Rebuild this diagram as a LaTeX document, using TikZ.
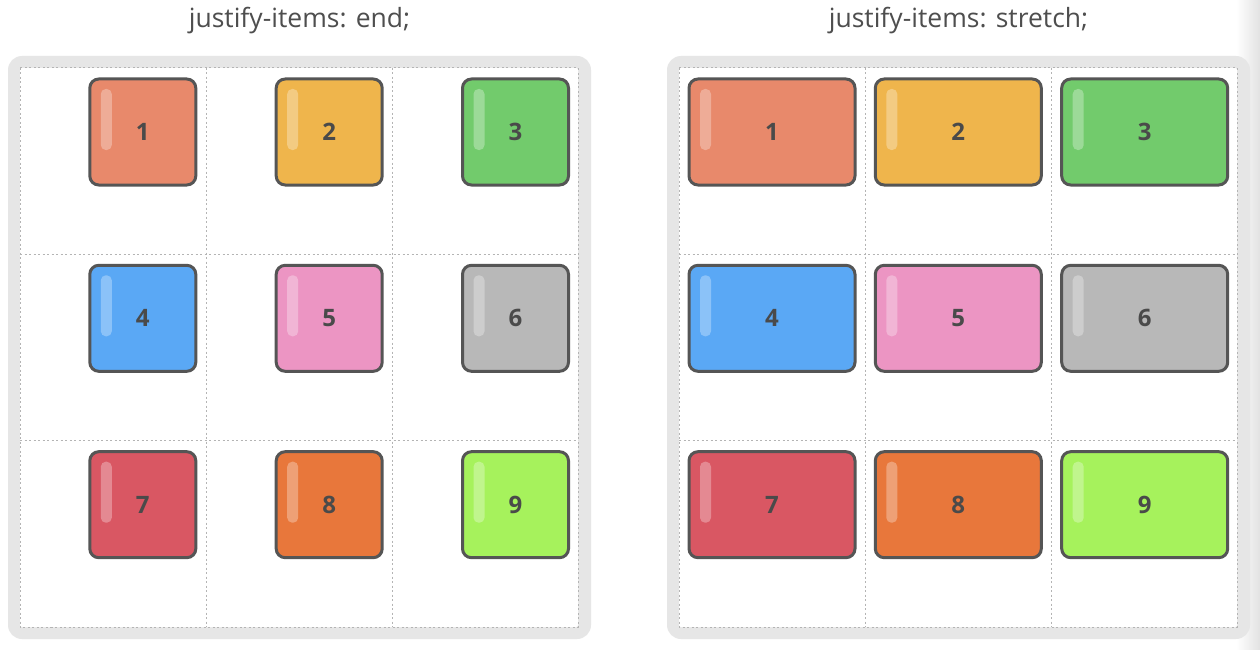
\documentclass[tikz,border=0pt]{standalone}
\usepackage{fontspec}
\newfontfamily\titlefont{Open Sans}
\definecolor{c1}{HTML}{E8896B}
\definecolor{c2}{HTML}{EFB54C}
\definecolor{c3}{HTML}{72CB6C}
\definecolor{c4}{HTML}{5AA8F5}
\definecolor{c5}{HTML}{EC95C3}
\definecolor{c6}{HTML}{B8B8B8}
\definecolor{c7}{HTML}{D95763}
\definecolor{c8}{HTML}{E8773B}
\definecolor{c9}{HTML}{A6F25C}
\definecolor{framegray}{HTML}{E6E6E6}
\definecolor{gridgray}{HTML}{B4B4B4}
\definecolor{edgegray}{HTML}{E2E2E2}
\definecolor{bordergray}{HTML}{555555}
\definecolor{textgray}{HTML}{4A4A4A}
\definecolor{titlegray}{HTML}{4E4E4E}
\begin{document}
\begin{tikzpicture}[x=1pt,y=-1pt,
  itembox/.style={draw=bordergray, line width=3pt, rounded corners=9pt,
    minimum height=106pt, inner sep=0pt, text=textgray,
    font=\titlefont\bfseries\fontsize{24}{24}\selectfont},
  gridline/.style={draw=gridgray, line width=1pt, dash pattern=on 2pt off 2.5pt},
  frame/.style={fill=framegray, rounded corners=14pt},
  titletext/.style={text=titlegray, font=\titlefont\fontsize{26.5}{30}\selectfont},
  shine/.style={fill=white, opacity=0.3, rounded corners=5pt}]
\useasboundingbox (0,0) rectangle (1260,650);
\fill[white] (0,0) rectangle (1260,650);
\shade[left color=white, right color=edgegray] (1236,0) rectangle (1260,650);

% titles
\node[titletext] (t1) at (299.5,21) {justify-items: end;};
\node[titletext] (t2) at (958.5,21) {justify-items: stretch;};

% left container
\fill[frame] (8,56) rectangle (591,639);
\fill[white, rounded corners=2pt] (20,68) rectangle (578,627);
\draw[gridline] (20,68) rectangle (578,627);
\draw[gridline] (206.3,68) -- (206.3,627);
\draw[gridline] (392.7,68) -- (392.7,627);
\draw[gridline] (20,254.3) -- (578,254.3);
\draw[gridline] (20,440.7) -- (578,440.7);

% right container
\fill[frame] (667,56) rectangle (1250,639);
\fill[white, rounded corners=2pt] (679,68) rectangle (1237,627);
\draw[gridline] (679,68) rectangle (1237,627);
\draw[gridline] (865.3,68) -- (865.3,627);
\draw[gridline] (1051.7,68) -- (1051.7,627);
\draw[gridline] (679,254.3) -- (1237,254.3);
\draw[gridline] (679,440.7) -- (1237,440.7);

% left boxes (justify-items: end)
\foreach \n/\c/\x/\y in {1/c1/142.8/132, 2/c2/329.2/132, 3/c3/515.5/132,
                         4/c4/142.8/318.3, 5/c5/329.2/318.3, 6/c6/515.5/318.3,
                         7/c7/142.8/504.7, 8/c8/329.2/504.7, 9/c9/515.5/504.7}{
  \node[itembox, fill=\c, minimum width=106pt] (L\n) at (\x,\y) {\n};
  \fill[shine] ([xshift=12.5pt,yshift=-11.5pt]L\n.north west) rectangle ++(11,61);
}

% right boxes (justify-items: stretch)
\foreach \n/\c/\x/\y in {1/c1/772/132, 2/c2/958.3/132, 3/c3/1144.7/132,
                         4/c4/772/318.3, 5/c5/958.3/318.3, 6/c6/1144.7/318.3,
                         7/c7/772/504.7, 8/c8/958.3/504.7, 9/c9/1144.7/504.7}{
  \node[itembox, fill=\c, minimum width=166pt] (R\n) at (\x,\y) {\n};
  \fill[shine] ([xshift=12.5pt,yshift=-11.5pt]R\n.north west) rectangle ++(11,61);
}
\end{tikzpicture}
\end{document}
